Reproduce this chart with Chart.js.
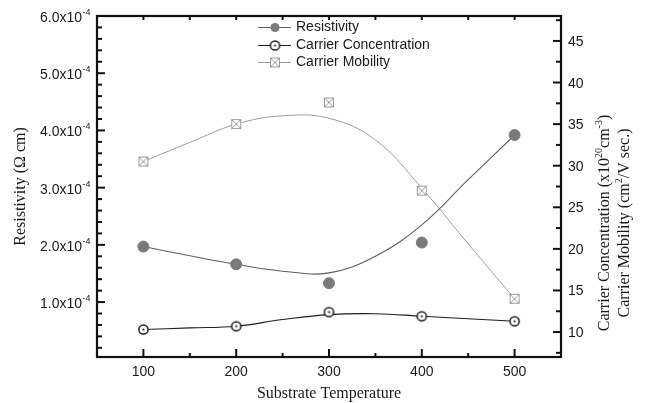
<!DOCTYPE html>
<html><head><meta charset="utf-8">
<script src="https://cdn.jsdelivr.net/npm/chart.js@4"></script>
<style>html,body{margin:0;padding:0;background:#fff;}canvas{display:block;}</style>
</head><body>
<canvas id="c" width="647" height="403"></canvas>
<script>
// ---- data ----
const temperatures = [100, 200, 300, 400, 500];
const resistivity = [1.97e-4, 1.66e-4, 1.33e-4, 2.04e-4, 3.92e-4];
const carrierConcentration = [10.3, 10.7, 12.4, 11.9, 11.3];
const carrierMobility = [30.5, 35.0, 37.6, 27.0, 14.0];
// fitted curves, values
const fitTemperatures = [100, 150, 200, 250, 300, 350, 400, 450, 500];
const resistivityFit = [1.97e-4, 1.81e-4, 1.66e-4, 1.54e-4, 1.51e-4, 1.80e-4, 2.35e-4, 3.14e-4, 3.92e-4];
const concentrationFit = [10.3, 10.5, 10.7, 11.5, 12.1, 12.2, 11.9, 11.6, 11.3];
const mobilityFit = [30.5, 32.8, 35.0, 36.0, 35.7, 33.1, 27.3, 20.6, 14.0];
// tick labels
const xTickValues = [100, 200, 300, 400, 500];
const leftTickMantissa = ['1.0', '2.0', '3.0', '4.0', '5.0', '6.0'];
const leftTickValues = [1e-4, 2e-4, 3e-4, 4e-4, 5e-4, 6e-4];
const rightTickValues = [10, 15, 20, 25, 30, 35, 40, 45];

const SANS = '"Liberation Sans", Arial, sans-serif';
const SERIF = '"Liberation Serif", "Times New Roman", serif';
const C_RES = '#7a7a7a', C_RES_LINE = '#5e5e5e', C_CON = '#1e1e1e', C_MOB = '#9c9c9c';

function concMarker() {
  const c = document.createElement('canvas'); c.width = 13; c.height = 13;
  const g = c.getContext('2d');
  g.beginPath(); g.arc(6.5, 6.5, 4.6, 0, Math.PI * 2); g.fillStyle = '#fff'; g.fill();
  g.lineWidth = 1.5; g.strokeStyle = C_CON; g.stroke();
  g.beginPath(); g.arc(6.5, 6.5, 1.1, 0, Math.PI * 2); g.fillStyle = C_CON; g.fill();
  return c;
}
function mobMarker() {
  const c = document.createElement('canvas'); c.width = 12; c.height = 12;
  const g = c.getContext('2d');
  g.fillStyle = '#fff'; g.fillRect(1, 1, 10, 10);
  g.strokeStyle = C_MOB; g.lineWidth = 1;
  g.strokeRect(1.5, 1.5, 9, 9);
  g.beginPath(); g.moveTo(1.5, 1.5); g.lineTo(10.5, 10.5); g.moveTo(10.5, 1.5); g.lineTo(1.5, 10.5); g.stroke();
  return c;
}
const concImg = concMarker();
const mobImg = mobMarker();

const pts = (xs, ys) => xs.map((x, i) => ({ x: x, y: ys[i] }));

const framePlugin = {
  id: 'frame',
  afterDraw(chart) {
    const ctx = chart.ctx;
    const a = chart.chartArea;
    const sx = chart.scales.x, sy = chart.scales.y, sy2 = chart.scales.y2;
    ctx.save();
    ctx.strokeStyle = '#111';
    // ticks
    ctx.lineWidth = 2;
    const hTick = (x, y, len) => { ctx.beginPath(); ctx.moveTo(x, y); ctx.lineTo(x + len, y); ctx.stroke(); };
    const vTick = (x, y, len) => { ctx.beginPath(); ctx.moveTo(x, y); ctx.lineTo(x, y + len); ctx.stroke(); };
    // left axis
    for (let k = 1; k <= 29; k++) {
      const v = k * 0.2e-4; const y = sy.getPixelForValue(v);
      if (y < a.top + 1 || y > a.bottom - 1) continue;
      hTick(a.left, y, k % 5 === 0 ? 8 : 5);
    }
    // right axis
    for (let k = 0; k <= 16; k++) {
      const v = 7.5 + k * 2.5; const y = sy2.getPixelForValue(v);
      if (y < a.top + 1 || y > a.bottom - 1) continue;
      hTick(a.right, y, (v % 5 === 0) ? -8 : -5);
    }
    // bottom and top axes
    for (let k = 1; k <= 9; k++) {
      const v = 50 + k * 50; const x = sx.getPixelForValue(v);
      vTick(x, a.bottom, (v % 100 === 0) ? -8 : -4);
      vTick(x, a.top, 4);
    }
    // frame
    ctx.lineWidth = 2.2;
    ctx.strokeRect(a.left, a.top, a.right - a.left, a.bottom - a.top);

    // tick labels
    ctx.fillStyle = '#1a1a1a';
    ctx.font = '14px ' + SANS;
    ctx.textAlign = 'center'; ctx.textBaseline = 'alphabetic';
    xTickValues.forEach(v => ctx.fillText(String(v), sx.getPixelForValue(v), 376));
    leftTickValues.forEach((v, i) => {
      const y = sy.getPixelForValue(v);
      ctx.font = '14px ' + SANS; ctx.textAlign = 'right';
      ctx.fillText(leftTickMantissa[i] + 'x10', 82, y + 6);
      ctx.font = '9px ' + SANS; ctx.textAlign = 'left';
      ctx.fillText('-4', 82.5, y - 1);
    });
    ctx.font = '14px ' + SANS; ctx.textAlign = 'left';
    rightTickValues.forEach(v => ctx.fillText(String(v), 568, sy2.getPixelForValue(v) + 5));

    // axis titles
    ctx.font = '16px ' + SERIF; ctx.textAlign = 'center';
    ctx.fillText('Substrate Temperature', (a.left + a.right) / 2, 398);
    const rich = (cx, cy, parts) => {
      ctx.save(); ctx.translate(cx, cy); ctx.rotate(-Math.PI / 2);
      ctx.textAlign = 'left'; ctx.textBaseline = 'middle';
      let w = 0;
      parts.forEach(p => { ctx.font = (p.sup ? '10px ' : '16px ') + SERIF; p.w = ctx.measureText(p.t).width; w += p.w; });
      let x = -w / 2;
      parts.forEach(p => { ctx.font = (p.sup ? '10px ' : '16px ') + SERIF; ctx.fillText(p.t, x, p.sup ? -6 : 0); x += p.w; });
      ctx.restore();
    };
    rich(21, (a.top + a.bottom) / 2, [{ t: 'Resistivity (\u03A9 cm)' }]);
    rich(605, 223, [{ t: 'Carrier Concentration (x10' }, { t: '20', sup: true }, { t: 'cm' }, { t: '-3', sup: true }, { t: ')' }]);
    rich(625, 223, [{ t: 'Carrier Mobility (cm' }, { t: '2', sup: true }, { t: '/V sec.)' }]);

    // legend
    const rows = [
      { label: 'Resistivity', color: C_RES_LINE, y: 27.5, mk: 'res' },
      { label: 'Carrier Concentration', color: C_CON, y: 45.5, mk: 'con' },
      { label: 'Carrier Mobility', color: C_MOB, y: 62.5, mk: 'mob' }
    ];
    rows.forEach(r => {
      ctx.strokeStyle = r.color; ctx.lineWidth = 1.2;
      ctx.beginPath(); ctx.moveTo(258, r.y); ctx.lineTo(291, r.y); ctx.stroke();
      if (r.mk === 'res') { ctx.beginPath(); ctx.arc(275, r.y, 4.5, 0, Math.PI * 2); ctx.fillStyle = C_RES; ctx.fill(); }
      else if (r.mk === 'con') ctx.drawImage(concImg, 275 - 6.5, r.y - 6.5);
      else ctx.drawImage(mobImg, 275 - 6, r.y - 6);
      ctx.fillStyle = '#1a1a1a'; ctx.font = '14px ' + SANS; ctx.textAlign = 'left'; ctx.textBaseline = 'middle';
      ctx.fillText(r.label, 296, r.y);
    });
    ctx.restore();
  }
};

new Chart(document.getElementById('c'), {
  type: 'line',
  data: {
    datasets: [
      { label: 'Resistivity', data: pts(temperatures, resistivity), yAxisID: 'y', showLine: false,
        pointStyle: 'circle', pointRadius: 5.5, backgroundColor: C_RES, borderColor: C_RES, order: 0 },
      { label: 'Carrier Concentration', data: pts(temperatures, carrierConcentration), yAxisID: 'y2', showLine: false,
        pointStyle: concImg, order: 0 },
      { label: 'Carrier Mobility', data: pts(temperatures, carrierMobility), yAxisID: 'y2', showLine: false,
        pointStyle: mobImg, order: 0 },
      { label: 'Resistivity fit', data: pts(fitTemperatures, resistivityFit), yAxisID: 'y', pointRadius: 0,
        borderColor: C_RES_LINE, borderWidth: 1.1, tension: 0.4, order: 1 },
      { label: 'Concentration fit', data: pts(fitTemperatures, concentrationFit), yAxisID: 'y2', pointRadius: 0,
        borderColor: C_CON, borderWidth: 1.1, tension: 0.4, order: 1 },
      { label: 'Mobility fit', data: pts(fitTemperatures, mobilityFit), yAxisID: 'y2', pointRadius: 0,
        borderColor: C_MOB, borderWidth: 1, tension: 0.4, order: 1 }
    ]
  },
  options: {
    responsive: false, animation: false,
    layout: { padding: { left: 97, right: 86, top: 16, bottom: 46 } },
    plugins: { legend: { display: false }, tooltip: { enabled: false } },
    scales: {
      x: { type: 'linear', min: 50, max: 550, display: false },
      y: { type: 'linear', position: 'left', min: 0.04e-4, max: 6e-4, display: false },
      y2: { type: 'linear', position: 'right', min: 7, max: 48, display: false }
    }
  },
  plugins: [framePlugin]
});
</script>
</body></html>
